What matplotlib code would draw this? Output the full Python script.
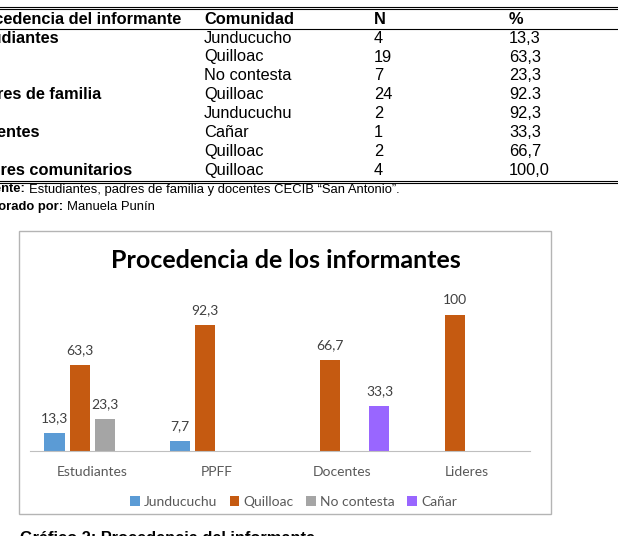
import numpy as np
import matplotlib
matplotlib.use('Agg')
import matplotlib.pyplot as plt
from matplotlib.patches import Rectangle, Patch

# table data
table_groups = ['Procedencia del informante', 'Estudiantes', '', '', 'Padres de familia', '',
                'Docentes', '', 'Líderes comunitarios']
table_comunidad = ['Comunidad', 'Junducucho', 'Quilloac', 'No contesta', 'Quilloac', 'Junducuchu',
                   'Cañar', 'Quilloac', 'Quilloac']
table_n = ['N', '4', '19', '7', '24', '2', '1', '2', '4']
table_pct = ['%', '13,3', '63,3', '23,3', '92.3', '92,3', '33,3', '66,7', '100,0']

# chart data
categories = ['Estudiantes', 'PPFF', 'Docentes', 'Lideres']
series_names = ['Junducuchu', 'Quilloac', 'No contesta', 'Cañar']
junducuchu = [13.3, 7.7, np.nan, np.nan]
quilloac = [63.3, 92.3, 66.7, 100]
no_contesta = [23.3, np.nan, np.nan, np.nan]
canar = [np.nan, np.nan, 33.3, np.nan]
colors = ['#5B9BD5', '#C55A11', '#A5A5A5', '#9966FF']

W, H = 618, 536
fig = plt.figure(figsize=(W / 100, H / 100), dpi=100)

# page overlay in pixel coordinates
page = fig.add_axes([0, 0, 1, 1])
page.set_xlim(0, W)
page.set_ylim(H, 0)
page.axis('off')

tfont = dict(family='Liberation Sans', fontsize=11.8, color='black')
row_y = 19.3 + 18.85 * np.arange(len(table_comunidad))
for i, y in enumerate(row_y):
    page.text(-33, y, table_groups[i], ha='left', va='center', fontweight='bold', **tfont)
    page.text(204, y, table_comunidad[i], ha='left', va='center',
              fontweight='bold' if i == 0 else 'normal', **tfont)
    page.text(374, y, table_n[i], ha='left', va='center',
              fontweight='bold' if i == 0 else 'normal', **tfont)
    page.text(509, y, table_pct[i], ha='left', va='center',
              fontweight='bold' if i == 0 else 'normal', **tfont)

page.plot([0, W], [6.5, 6.5], color='black', lw=0.8)
page.plot([0, W], [8.5, 8.5], color='black', lw=0.8)
page.plot([0, W], [28.5, 28.5], color='black', lw=0.8)
page.plot([0, W], [180.5, 180.5], color='black', lw=0.8)
page.plot([0, W], [182.5, 182.5], color='black', lw=0.8)

sfont = dict(family='Liberation Sans', fontsize=9.4, color='black', va='center')
page.text(25, 189.5, 'Fuente:', fontweight='bold', ha='right', **sfont)
page.text(29, 189.5, 'Estudiantes, padres de familia y docentes CECIB “San Antonio”.', ha='left', **sfont)
page.text(63, 207, 'Elaborado por:', fontweight='bold', ha='right', **sfont)
page.text(67, 207, 'Manuela Punín', ha='left', **sfont)

page.add_patch(Rectangle((19, 231), 532, 283, facecolor='white', edgecolor='#b4b4b4', lw=1.0))
page.text(285.5, 260, 'Procedencia de los informantes', ha='center', va='center',
          family='Lato', fontweight='bold', fontsize=18, color='#000000')
page.text(20, 531, 'Gráfico 2: Procedencia del informante', ha='left', va='top',
          family='Liberation Sans', fontweight='bold', fontsize=11.8, color='black')

# chart axes
ax = fig.add_axes([29.5 / W, (H - 451) / H, 500 / W, 163.6 / H])
ax.patch.set_alpha(0)
x = np.arange(len(categories))
values = [junducuchu, quilloac, no_contesta, canar]
for i, (name, vals, c) in enumerate(zip(series_names, values, colors)):
    pos = x + (i - 1.5) * 0.2
    ax.bar(pos, vals, width=0.16, color=c, label=name)
    for px, v in zip(pos, vals):
        if np.isnan(v):
            continue
        ax.annotate(f'{v:g}'.replace('.', ','), (px, v), xytext=(0, 10.6),
                    textcoords='offset points', ha='center', va='center',
                    family='Lato', fontsize=10, color='#404040')

ax.set_xlim(-0.5, len(categories) - 0.5)
ax.set_ylim(0, 120)
ax.set_yticks([])
ax.set_xticks(x)
ax.set_xticklabels(categories, family='Lato', fontsize=10, color='#595959')
ax.tick_params(axis='x', length=0, pad=10.5)
for s in ['top', 'right', 'left']:
    ax.spines[s].set_visible(False)
ax.spines['bottom'].set_color('#BFBFBF')

handles = [Patch(facecolor=c, edgecolor='none') for c in colors]
fig.legend(handles, series_names, loc='center', bbox_to_anchor=(293.5 / W, (H - 501.7) / H),
           ncol=4, frameon=False, handlelength=0.7, handleheight=0.7, handletextpad=0.3,
           columnspacing=0.9, prop=dict(family='Lato', size=10), labelcolor='#595959')

fig.savefig('out.png', dpi=100)
